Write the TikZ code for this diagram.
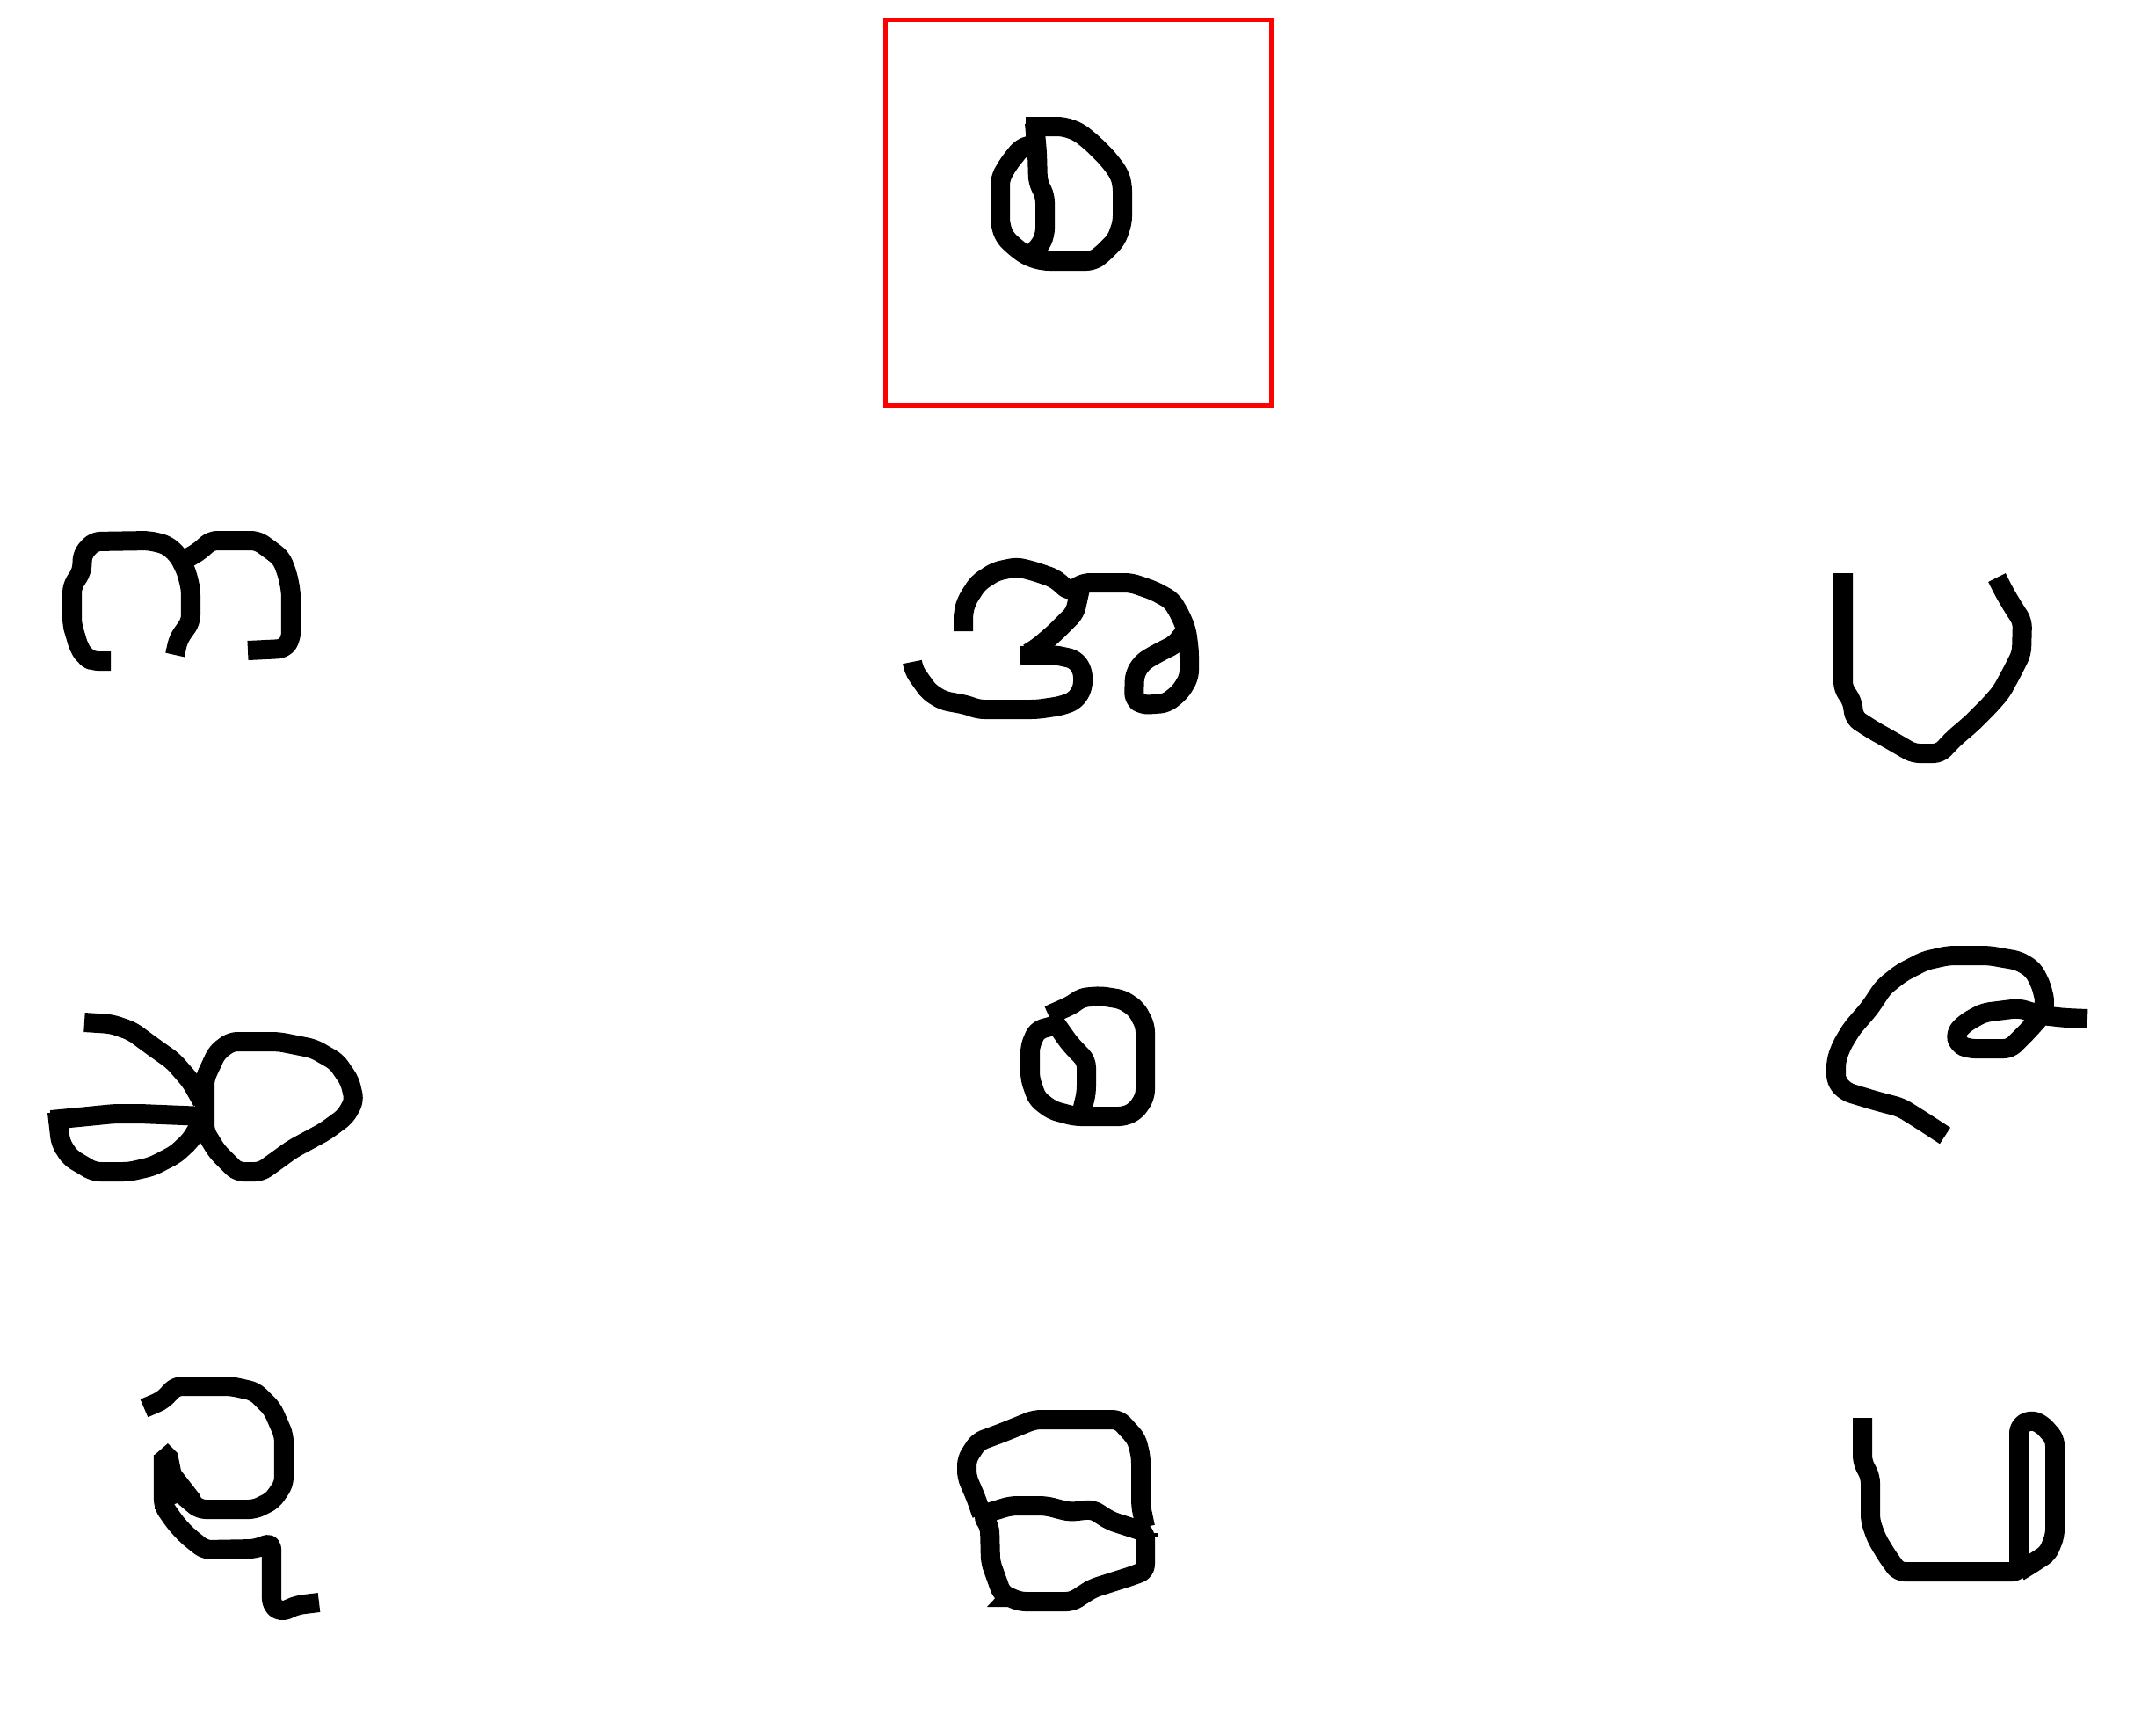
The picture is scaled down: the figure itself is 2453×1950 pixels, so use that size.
\documentclass[tikz,border=0pt]{standalone}
\tikzset{
  glyph/.style={draw=black, line width=\sketchStrokeWidth, line cap=butt, line join=round, rounded corners=\sketchCornerRadius},
  probebox/.style={draw=\sketchProbeColor, line width=\sketchProbeWidth}
}
\begin{document}
\begin{tikzpicture}
% Sheet of hand drawn signs, coordinates in pixels from the top left
\def\cellsz{0.01cm}
\providecommand{\sketchStrokeWidth}{0.22cm}
\providecommand{\sketchCornerRadius}{0.07cm}
\providecommand{\sketchProbeWidth}{0.05cm}
\providecommand{\sketchProbeColor}{red}
\begin{scope}[x=\cellsz, y=-\cellsz]
  \useasboundingbox (0,0) rectangle (2453,1950);
  % Probe sign in its frame
  \draw[probebox] (1007.5,22.5) rectangle (1446.5,461.5);
  \draw[glyph] (1167,144) -- (1210,144) -- (1227,150) -- (1243,163) -- (1260,180) -- (1273,197) -- (1277,210) -- (1277,253) -- (1270,273) -- (1253,290) -- (1243,297) -- (1187,297) -- (1170,292) -- (1157,283) -- (1143,270) -- (1138,255) -- (1138,203) -- (1147,187) -- (1162,168) -- (1182,163);
  \draw[glyph] (1177,140) -- (1180,173) -- (1181,207) -- (1189,223) -- (1189,267) -- (1183,280) -- (1170,292);
  % Row 1
  \draw[glyph] (126,752) -- (105,752) -- (97,747) -- (90,737) -- (85,720) -- (82,710) -- (82,667) -- (93,650) -- (94,630) -- (107,616) -- (170,615) -- (190,620) -- (203,632) -- (212,650) -- (217,670) -- (217,707) -- (203,727) -- (199,745);
  \draw[glyph] (205,640) -- (227,627) -- (240,615) -- (293,615) -- (307,625) -- (320,635) -- (327,653) -- (331,673) -- (331,727) -- (323,738) -- (282,740);
  \draw[glyph] (1096,718) -- (1096,697) -- (1100,683) -- (1113,663) -- (1133,650) -- (1157,645) -- (1177,650) -- (1200,658) -- (1217,673) -- (1233,663) -- (1287,663) -- (1313,672) -- (1333,683) -- (1343,700) -- (1350,717) -- (1353,740) -- (1353,770) -- (1343,787) -- (1327,800) -- (1300,802) -- (1290,795) -- (1291,767) -- (1300,753) -- (1317,743) -- (1337,733) -- (1347,720);
  \draw[glyph] (1230,665) -- (1223,697) -- (1200,720) -- (1180,737) -- (1170,743);
  \draw[glyph] (1161,746) -- (1200,745) -- (1223,750) -- (1232,763) -- (1232,783) -- (1223,797) -- (1207,803) -- (1180,807) -- (1113,807) -- (1100,802) -- (1073,797) -- (1057,787) -- (1040,763) -- (1038,753);
  \draw[glyph] (2097,652) -- (2097,783) -- (2107,797) -- (2110,817) -- (2130,830) -- (2153,843) -- (2177,857) -- (2207,857) -- (2223,840) -- (2243,823) -- (2263,803) -- (2277,787) -- (2290,763) -- (2300,743) -- (2301,707) -- (2290,690) -- (2280,673) -- (2272,657);
  % Row 2
  \draw[glyph] (96,1163) -- (127,1165) -- (150,1173) -- (173,1190) -- (197,1207) -- (217,1230) -- (230,1253);
  \draw[glyph] (233,1227) -- (247,1197) -- (263,1185) -- (317,1185) -- (357,1193) -- (383,1208) -- (398,1230) -- (403,1252) -- (393,1270) -- (370,1287) -- (333,1307) -- (297,1333) -- (270,1333) -- (247,1310) -- (233,1287) -- cycle;
  \draw[glyph] (58,1274) -- (100,1270) -- (130,1267) -- (160,1267) -- (233,1270);
  \draw[glyph] (65,1265) -- (69,1300) -- (80,1317) -- (107,1333) -- (147,1333) -- (173,1327) -- (200,1313) -- (217,1297) -- (227,1280);
  \draw[glyph] (1193,1155) -- (1220,1143) -- (1230,1135) -- (1252,1133) -- (1277,1137) -- (1293,1148) -- (1303,1167) -- (1303,1247) -- (1293,1263) -- (1280,1270) -- (1223,1270) -- (1197,1263) -- (1180,1250) -- (1172,1227) -- (1172,1190) -- (1180,1172) -- (1205,1165);
  \draw[glyph] (1198,1160) -- (1217,1187) -- (1236,1207) -- (1236,1243) -- (1230,1268);
  \draw[glyph] (2213,1292) -- (2190,1277) -- (2163,1260) -- (2133,1252) -- (2100,1242) -- (2089,1230) -- (2089,1207) -- (2095,1190) -- (2107,1170) -- (2127,1147) -- (2143,1123) -- (2163,1107) -- (2190,1093) -- (2217,1087) -- (2263,1087) -- (2297,1093) -- (2313,1103) -- (2322,1120) -- (2327,1140) -- (2323,1155) -- (2307,1173) -- (2287,1193) -- (2240,1193) -- (2228,1188) -- (2225,1175) -- (2237,1163) -- (2257,1152) -- (2297,1147) -- (2323,1155) -- (2350,1158) -- (2375,1159);
  % Row 3
  \fill (176,1655) -- (191,1642) -- (202,1653) -- (206,1673) -- (227,1700) -- (230,1707) -- (217,1717) -- (202,1710) -- (176,1717) -- cycle;
  \draw[glyph] (164,1602) -- (185,1593) -- (200,1577) -- (263,1577) -- (290,1583) -- (310,1603) -- (323,1633) -- (323,1688) -- (310,1707) -- (290,1717) -- (227,1717) -- (207,1700) -- (196,1680);
  \draw[glyph] (186,1655) -- (186,1713) -- (200,1733) -- (213,1747) -- (233,1763) -- (290,1762) -- (309,1755) -- (309,1826) -- (320,1834) -- (338,1826) -- (363,1823);
  \draw[glyph] (1117,1723) -- (1110,1703) -- (1100,1680) -- (1100,1660) -- (1113,1640) -- (1140,1630) -- (1177,1615) -- (1273,1615) -- (1293,1637) -- (1298,1657) -- (1298,1713) -- (1303,1737);
  \draw[glyph] (1117,1723) -- (1150,1713) -- (1190,1713) -- (1217,1720) -- (1243,1717) -- (1263,1730) -- (1303,1743) -- (1303,1787) -- (1287,1793) -- (1243,1807) -- (1220,1822) -- (1160,1822) -- (1140,1813) -- (1127,1777) -- (1126,1737) -- cycle;
  \fill (1123,1828) -- (1137,1813) -- (1160,1828) -- cycle;
  \fill (1308,1743.5) rectangle (1318,1748);
  \draw[glyph] (2119,1613) -- (2119,1663) -- (2128,1680) -- (2128,1730) -- (2135,1750) -- (2147,1770) -- (2160,1788) -- (2297,1788) -- (2297,1623) -- (2310,1615) -- (2323,1620) -- (2338,1637) -- (2338,1747) -- (2330,1767) -- (2310,1780) -- (2297,1788);
\end{scope}
\end{tikzpicture}
\end{document}
